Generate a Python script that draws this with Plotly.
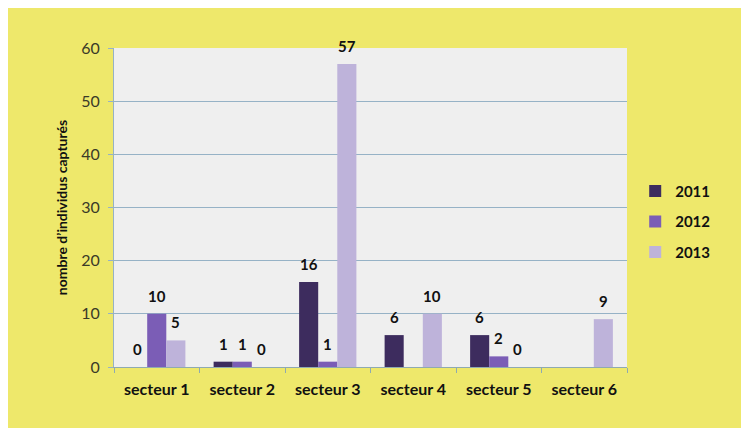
import plotly.graph_objects as go

categories = ["secteur 1", "secteur 2", "secteur 3", "secteur 4", "secteur 5", "secteur 6"]
years = ["2011", "2012", "2013"]
values_2011 = [0, 1, 16, 6, 6, None]
values_2012 = [10, 1, 1, None, 2, None]
values_2013 = [5, 0, 57, 10, 0, 9]
colors = ["#3D2C5E", "#7B5DB6", "#BEB3DA"]
y_ticks = [0, 10, 20, 30, 40, 50, 60]

FONT = "Lato"
BARGAP = 0.33
series = [values_2011, values_2012, values_2013]

fig = go.Figure()
annotations = []
bar_w = (1 - BARGAP) / len(series)
for i, (yr, vals) in enumerate(zip(years, series)):
    fig.add_trace(go.Bar(
        x=categories, y=vals, name=yr, marker_color=colors[i],
        marker_line_width=0, legendgroup=yr,
    ))
    for j, v in enumerate(vals):
        if v is None:
            continue
        annotations.append(dict(
            x=j + (i - 1) * bar_w, y=v, xref="x", yref="y",
            text=str(v), showarrow=False, yanchor="bottom", yshift=7,
            font=dict(family=FONT, size=15, color="#111111", weight="bold"),
        ))

fig.update_layout(
    width=741, height=420,
    margin=dict(l=106, r=122, t=40, b=61),
    paper_bgcolor="#EEE86B",
    plot_bgcolor="#EFEFEF",
    barmode="group", bargap=BARGAP, bargroupgap=0,
    font=dict(family=FONT, color="#333333"),
    showlegend=True,
    legend=dict(x=1.016, xanchor="left", y=0.603, yanchor="top",
                font=dict(family=FONT, size=15, color="#111111", weight="bold"),
                bgcolor="rgba(0,0,0,0)", tracegroupgap=8, itemwidth=30),
    xaxis=dict(showgrid=False, showline=True, linecolor="#8FAAB0", linewidth=1,
               ticks="outside", tickson="boundaries", ticklen=5, tickcolor="#8FAAB0",
               ticklabelstandoff=8,
               tickfont=dict(family=FONT, size=16, color="#111111", weight="bold")),
    yaxis=dict(range=[0, 60], tickvals=y_ticks, showgrid=True, gridcolor="#96B2C6", gridwidth=1,
               showline=True, linecolor="#96B2C6", linewidth=1, zeroline=False,
               ticks="outside", ticklen=5, tickcolor="#96B2C6", ticklabelstandoff=5,
               tickfont=dict(family=FONT, size=16, color="#3a3a28"),
               title=dict(text="nombre d’individus capturés", standoff=10,
                          font=dict(family=FONT, size=14, color="#111111", weight="bold"))),
    annotations=annotations,
)

fig.write_html("out.html")
